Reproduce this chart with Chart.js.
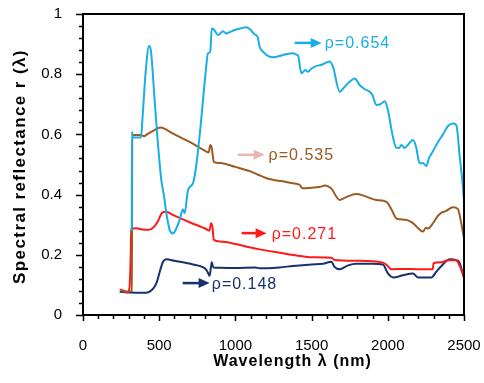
<!DOCTYPE html>
<html><head><meta charset="utf-8">
<script src="https://cdn.jsdelivr.net/npm/chart.js@4/dist/chart.umd.min.js"></script>
<style>html,body{margin:0;padding:0;background:#fff}</style>
</head><body>
<canvas id="c" width="484" height="383"></canvas>
<script>
// ---- data (wavelength nm, reflectance) ----
const wlCyan = [320,321,325,380,390,410,433,445,470,490,514,530,547,569,591,610,634,656,667,689,722,744,770,803,820,835,845,860,886,919,940,963,995,1040,1072,1094,1127,1145,1159,1181,1210,1247,1313,1378,1400,1411,1433,1460,1475,1498,1520,1570,1619,1640,1684,1720,1750,1783,1815,1850,1881,1900,1925,1950,1980,2001,2030,2056,2075,2089,2110,2140,2165,2185,2209,2230,2253,2270,2297,2330,2362,2395,2428,2450,2472,2490,2500];
const rCyan  = [0.28,0.609,0.59,0.59,0.65,0.80,0.894,0.88,0.714,0.58,0.448,0.40,0.338,0.282,0.271,0.285,0.316,0.351,0.338,0.415,0.438,0.50,0.62,0.797,0.869,0.875,0.952,0.948,0.930,0.943,0.935,0.94,0.947,0.953,0.956,0.950,0.932,0.925,0.891,0.875,0.862,0.856,0.864,0.870,0.865,0.862,0.803,0.814,0.808,0.818,0.825,0.832,0.842,0.825,0.742,0.76,0.775,0.786,0.764,0.750,0.742,0.73,0.698,0.700,0.71,0.68,0.60,0.556,0.555,0.565,0.555,0.570,0.581,0.56,0.504,0.505,0.495,0.52,0.545,0.575,0.600,0.628,0.636,0.630,0.526,0.44,0.38];

const wlBrown = [250,300,321,323,380,400,420,460,500,514,530,600,700,810,825,835,845,850,858,900,1000,1094,1150,1200,1260,1300,1350,1400,1422,1440,1500,1550,1590,1608,1630,1684,1720,1794,1850,1925,1991,2025,2056,2080,2121,2150,2177,2210,2231,2250,2265,2290,2330,2352,2380,2428,2460,2482,2500];
const rBrown  = [0.08,0.078,0.08,0.598,0.598,0.594,0.60,0.612,0.622,0.623,0.620,0.60,0.575,0.543,0.54,0.565,0.555,0.535,0.509,0.505,0.492,0.478,0.466,0.455,0.448,0.445,0.440,0.436,0.432,0.421,0.423,0.425,0.430,0.427,0.42,0.382,0.39,0.402,0.395,0.382,0.376,0.35,0.321,0.318,0.316,0.31,0.300,0.283,0.277,0.29,0.287,0.30,0.33,0.340,0.345,0.358,0.352,0.305,0.255];

const wlRed = [241,270,290,305,313,316,350,400,430,460,490,520,543,600,700,810,830,840,850,858,900,1000,1100,1159,1290,1400,1487,1630,1650,1800,1968,1990,2024,2100,2200,2295,2300,2352,2396,2450,2470,2500];
const rRed  = [0.085,0.08,0.075,0.09,0.20,0.285,0.288,0.283,0.283,0.29,0.31,0.34,0.343,0.33,0.308,0.285,0.28,0.305,0.29,0.25,0.244,0.236,0.224,0.218,0.207,0.198,0.192,0.19,0.183,0.18,0.174,0.168,0.152,0.153,0.152,0.152,0.172,0.175,0.182,0.182,0.165,0.127];

const wlNavy = [241,300,416,450,481,510,525,547,600,722,790,809,825,830,840,845,855,900,1000,1130,1159,1290,1378,1500,1575,1630,1650,1684,1740,1794,1900,1968,2001,2035,2100,2165,2198,2286,2320,2352,2407,2450,2470,2500];
const rNavy  = [0.077,0.075,0.074,0.082,0.105,0.155,0.177,0.185,0.18,0.168,0.158,0.15,0.135,0.13,0.16,0.175,0.158,0.157,0.156,0.158,0.155,0.158,0.163,0.168,0.170,0.177,0.16,0.152,0.165,0.170,0.170,0.168,0.138,0.125,0.132,0.138,0.125,0.125,0.145,0.163,0.185,0.182,0.175,0.122];

const xTicks = [0,500,1000,1500,2000,2500];
const yTicks = [0,0.2,0.4,0.6,0.8,1];
const xTitle = 'Wavelength λ (nm)';
const yTitle = 'Spectral reflectance r (λ)';

// annotations: label text, arrow start/end wavelength, text start wavelength, reflectance level
const annotTexts = ['ρ=0.654','ρ=0.535','ρ=0.271','ρ=0.148'];
const annotArrowFrom = [1389,1015,1041,654];
const annotArrowTo   = [1566,1192,1205,831];
const annotTextAt    = [1586,1218,1238,845];
const annotLevel     = [0.904,0.532,0.272,0.106];

const C_CYAN='#19AEE6', C_BROWN='#9C5A22', C_RED='#FF1A1A', C_NAVY='#17306E', C_PINK='#E8B4B4';
const annotArrowColors=[C_CYAN,C_PINK,C_RED,C_NAVY];
const annotTextColors=[C_CYAN,C_BROWN,C_RED,C_NAVY];

const pts=(xs,ys)=>xs.map((x,i)=>({x:x,y:ys[i]}));
const mk=(label,xs,ys,color)=>({label,data:pts(xs,ys),borderColor:color,backgroundColor:color,borderWidth:2,pointRadius:0,showLine:true,tension:0,cubicInterpolationMode:'monotone',fill:false});

const noPad=s=>{s.paddingTop=0;s.paddingBottom=0;s.paddingLeft=0;s.paddingRight=0;};

const decor={
  id:'decor',
  afterDatasetsDraw(chart){
    const ctx=chart.ctx, a=chart.chartArea, xs=chart.scales.x, ys=chart.scales.y;
    ctx.save();
    ctx.strokeStyle='#000'; ctx.lineWidth=2;
    ctx.strokeRect(a.left,a.top,a.right-a.left,a.bottom-a.top);
    ctx.lineWidth=1.5;
    ctx.beginPath();
    for(let v=0; v<=2500; v+=100){
      const px=Math.round(xs.getPixelForValue(v))+0.5;
      const len=(v%500===0)?6:4;
      ctx.moveTo(px,a.bottom); ctx.lineTo(px,a.bottom+len);
    }
    for(let k=0;k<=25;k++){
      const v=k*0.04;
      const py=Math.round(ys.getPixelForValue(v))+0.5;
      const len=(k%5===0)?7:4;
      ctx.moveTo(a.left,py); ctx.lineTo(a.left-len,py);
    }
    ctx.stroke();
    ctx.restore();
  },
  afterDraw(chart){
    const ctx=chart.ctx, xs=chart.scales.x, ys=chart.scales.y, a=chart.chartArea;
    ctx.save();
    for(let i=0;i<annotTexts.length;i++){
      const x0=xs.getPixelForValue(annotArrowFrom[i]);
      const x1=xs.getPixelForValue(annotArrowTo[i]);
      const y=ys.getPixelForValue(annotLevel[i]);
      ctx.strokeStyle=annotArrowColors[i]; ctx.fillStyle=annotArrowColors[i];
      ctx.lineWidth=2.5;
      ctx.beginPath(); ctx.moveTo(x0,y); ctx.lineTo(x1-9,y); ctx.stroke();
      ctx.beginPath(); ctx.moveTo(x1,y); ctx.lineTo(x1-11,y-5); ctx.lineTo(x1-11,y+5); ctx.closePath(); ctx.fill();
      ctx.fillStyle=annotTextColors[i];
      ctx.font='16px "Liberation Sans", Arial, sans-serif';
      ctx.letterSpacing='1px';
      ctx.textAlign='left'; ctx.textBaseline='middle';
      ctx.fillText(annotTexts[i], xs.getPixelForValue(annotTextAt[i]), y+1);
    }
    ctx.fillStyle='#000';
    ctx.font='bold 16px "Liberation Sans", Arial, sans-serif';
    ctx.letterSpacing='1px';
    ctx.textAlign='center'; ctx.textBaseline='middle';
    ctx.fillText(xTitle, (a.left+a.right)/2+19, 362);
    ctx.font='bold 17px "Liberation Sans", Arial, sans-serif';
    ctx.letterSpacing='1.4px';
    ctx.translate(20,(a.top+a.bottom)/2+2);
    ctx.rotate(-Math.PI/2);
    ctx.fillText(yTitle,0,0);
    ctx.restore();
  }
};

new Chart(document.getElementById('c'),{
  type:'scatter',
  data:{datasets:[
    mk('ρ=0.654',wlCyan,rCyan,C_CYAN),
    mk('ρ=0.535',wlBrown,rBrown,C_BROWN),
    mk('ρ=0.271',wlRed,rRed,C_RED),
    mk('ρ=0.148',wlNavy,rNavy,C_NAVY)
  ]},
  options:{
    responsive:false, animation:false,
    layout:{padding:{top:14,right:20,left:0,bottom:0}},
    plugins:{legend:{display:false},tooltip:{enabled:false}},
    scales:{
      x:{type:'linear',min:0,max:2500,
         afterBuildTicks:s=>{s.ticks=xTicks.map(v=>({value:v}));},
         afterFit:s=>{s.height=68;noPad(s);},
         grid:{display:false,drawTicks:false},border:{display:false},
         ticks:{color:'#000',padding:22,maxRotation:0,callback:v=>String(v),font:{family:'"Liberation Sans", Arial, sans-serif',size:15}}},
      y:{type:'linear',min:0,max:1,
         afterBuildTicks:s=>{s.ticks=yTicks.map(v=>({value:v}));},
         afterFit:s=>{s.width=83;noPad(s);},
         grid:{display:false,drawTicks:false},border:{display:false},
         ticks:{color:'#000',padding:21,callback:v=>String(Number(v.toFixed(1))),font:{family:'"Liberation Sans", Arial, sans-serif',size:15}}}
    }
  },
  plugins:[decor]
});
</script>
</body></html>
